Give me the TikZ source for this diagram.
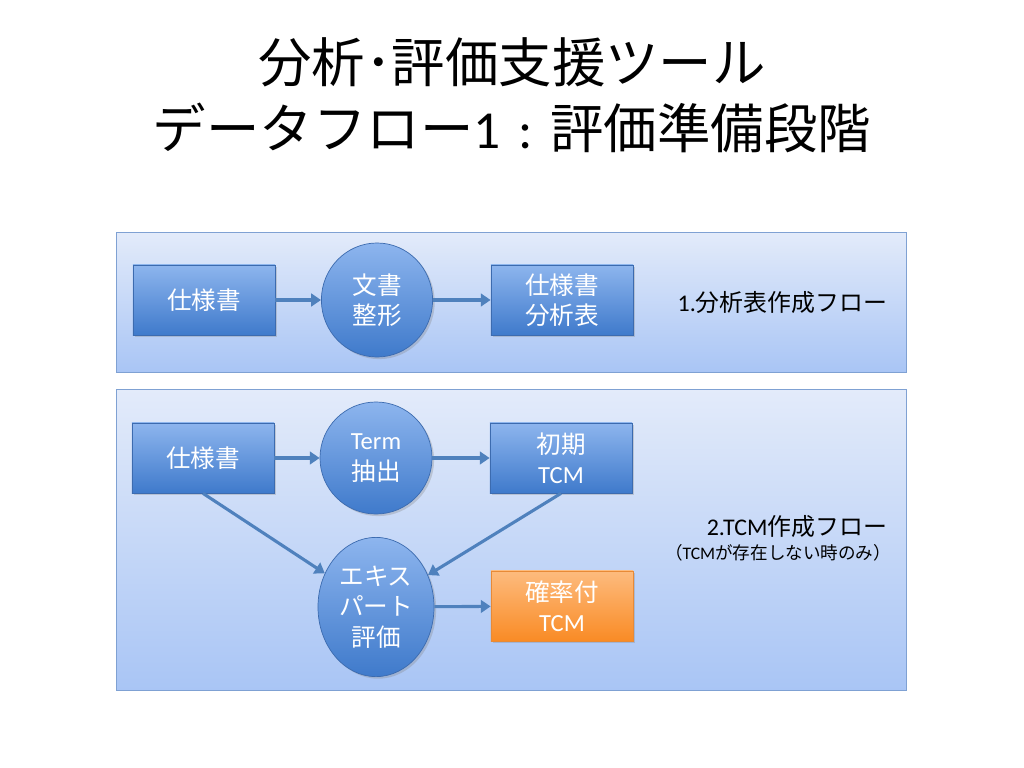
\documentclass[tikz,border=0pt]{standalone}
\usepackage{fontspec}
\setmainfont{Carlito}
\newfontfamily\jp{Noto Sans CJK JP}
\usetikzlibrary{shapes.geometric,shadows,arrows.meta}
\definecolor{panelTop}{HTML}{E3EBFA}
\definecolor{panelBot}{HTML}{A9C5F5}
\definecolor{panelLine}{HTML}{7FA1D3}
\definecolor{boxTop}{HTML}{8DB5EE}
\definecolor{boxBot}{HTML}{3F7ACB}
\definecolor{boxLine}{HTML}{3C6BAF}
\definecolor{orTop}{HTML}{FDBB7E}
\definecolor{orBot}{HTML}{F98B25}
\definecolor{orLine}{HTML}{E88A36}
\definecolor{flowBlue}{HTML}{4F81BD}
\tikzset{
 panel/.style={draw=panelLine,line width=0.6pt,top color=panelTop,bottom color=panelBot,
   drop shadow={opacity=0.25,shadow xshift=1pt,shadow yshift=-1pt}},
 box/.style={rectangle,draw=boxLine,line width=0.5pt,top color=boxTop,bottom color=boxBot,
   minimum width=3.55cm,minimum height=1.75cm,text=white,align=center,font=\fontsize{17.5}{21.5}\selectfont,
   drop shadow={opacity=0.3,shadow xshift=1.5pt,shadow yshift=-1.5pt}},
 orbox/.style={box,draw=orLine,top color=orTop,bottom color=orBot},
 proc/.style={ellipse,draw=boxLine,line width=0.5pt,top color=boxTop,bottom color=boxBot,
   inner sep=0pt,text=white,align=center,font=\fontsize{17.5}{21.5}\selectfont,
   drop shadow={opacity=0.3,shadow xshift=1.5pt,shadow yshift=-1.5pt}},
 flow/.style={draw=flowBlue,line width=2.2pt,-{Triangle[length=7pt,width=9pt]}},
 label/.style={anchor=east,font=\fontsize{17}{20}\selectfont}
}
\begin{document}
\begin{tikzpicture}[x=0.025cm,y=-0.025cm]
 \useasboundingbox[fill=white] (0,0) rectangle (1024,768);
 \node[font=\fontsize{38}{44}\selectfont] (title1) at (512,62) {\jp 分析･評価支援ツール};
 \node[font=\fontsize{38}{44}\selectfont] (title2) at (512,128) {{\jp データフロー}1\,\,:\,\,{\jp 評価準備段階}};
 \path[panel] (116,232) rectangle (906,372);
 \path[panel] (116,389) rectangle (906,690);
 \node[box] (spec1) at (204,300) {\jp 仕様書};
 \node[proc,minimum width=2.78cm,minimum height=2.85cm] (shape) at (377,300) {\jp 文書\\\jp 整形};
 \node[box] (table) at (562,300) {\jp 仕様書\\\jp 分析表};
 \node[label] (flow1) at (892,302) {1.{\jp 分析表作成フロー}};
 \draw[flow] (spec1) -- (shape);
 \draw[flow] (shape) -- (table);
 \node[box] (spec2) at (203,458) {\jp 仕様書};
 \node[proc,minimum width=2.8cm,minimum height=2.8cm] (term) at (376,458) {Term\\\jp 抽出};
 \node[box] (tcm0) at (561,458) {\jp 初期\\TCM};
 \node[proc,minimum width=2.9cm,minimum height=3.48cm] (expert) at (376,607) {\jp エキス\\\jp パート\\\jp 評価};
 \node[orbox] (tcmp) at (562,606) {\jp 確率付\\TCM};
 \node[label] (flow2) at (892,527) {2.TCM{\jp 作成フロー}};
 \node[anchor=east,font=\fontsize{12.5}{15}\selectfont] (note) at (896,553) {{\jp （}TCM{\jp が存在しない時のみ）}};
 \draw[flow] (spec2) -- (term);
 \draw[flow] (term) -- (tcm0);
 \draw[flow] (spec2.south) -- (expert);
 \draw[flow] (tcm0.south) -- (expert);
 \draw[flow] (expert) -- (tcmp);
\end{tikzpicture}
\end{document}
